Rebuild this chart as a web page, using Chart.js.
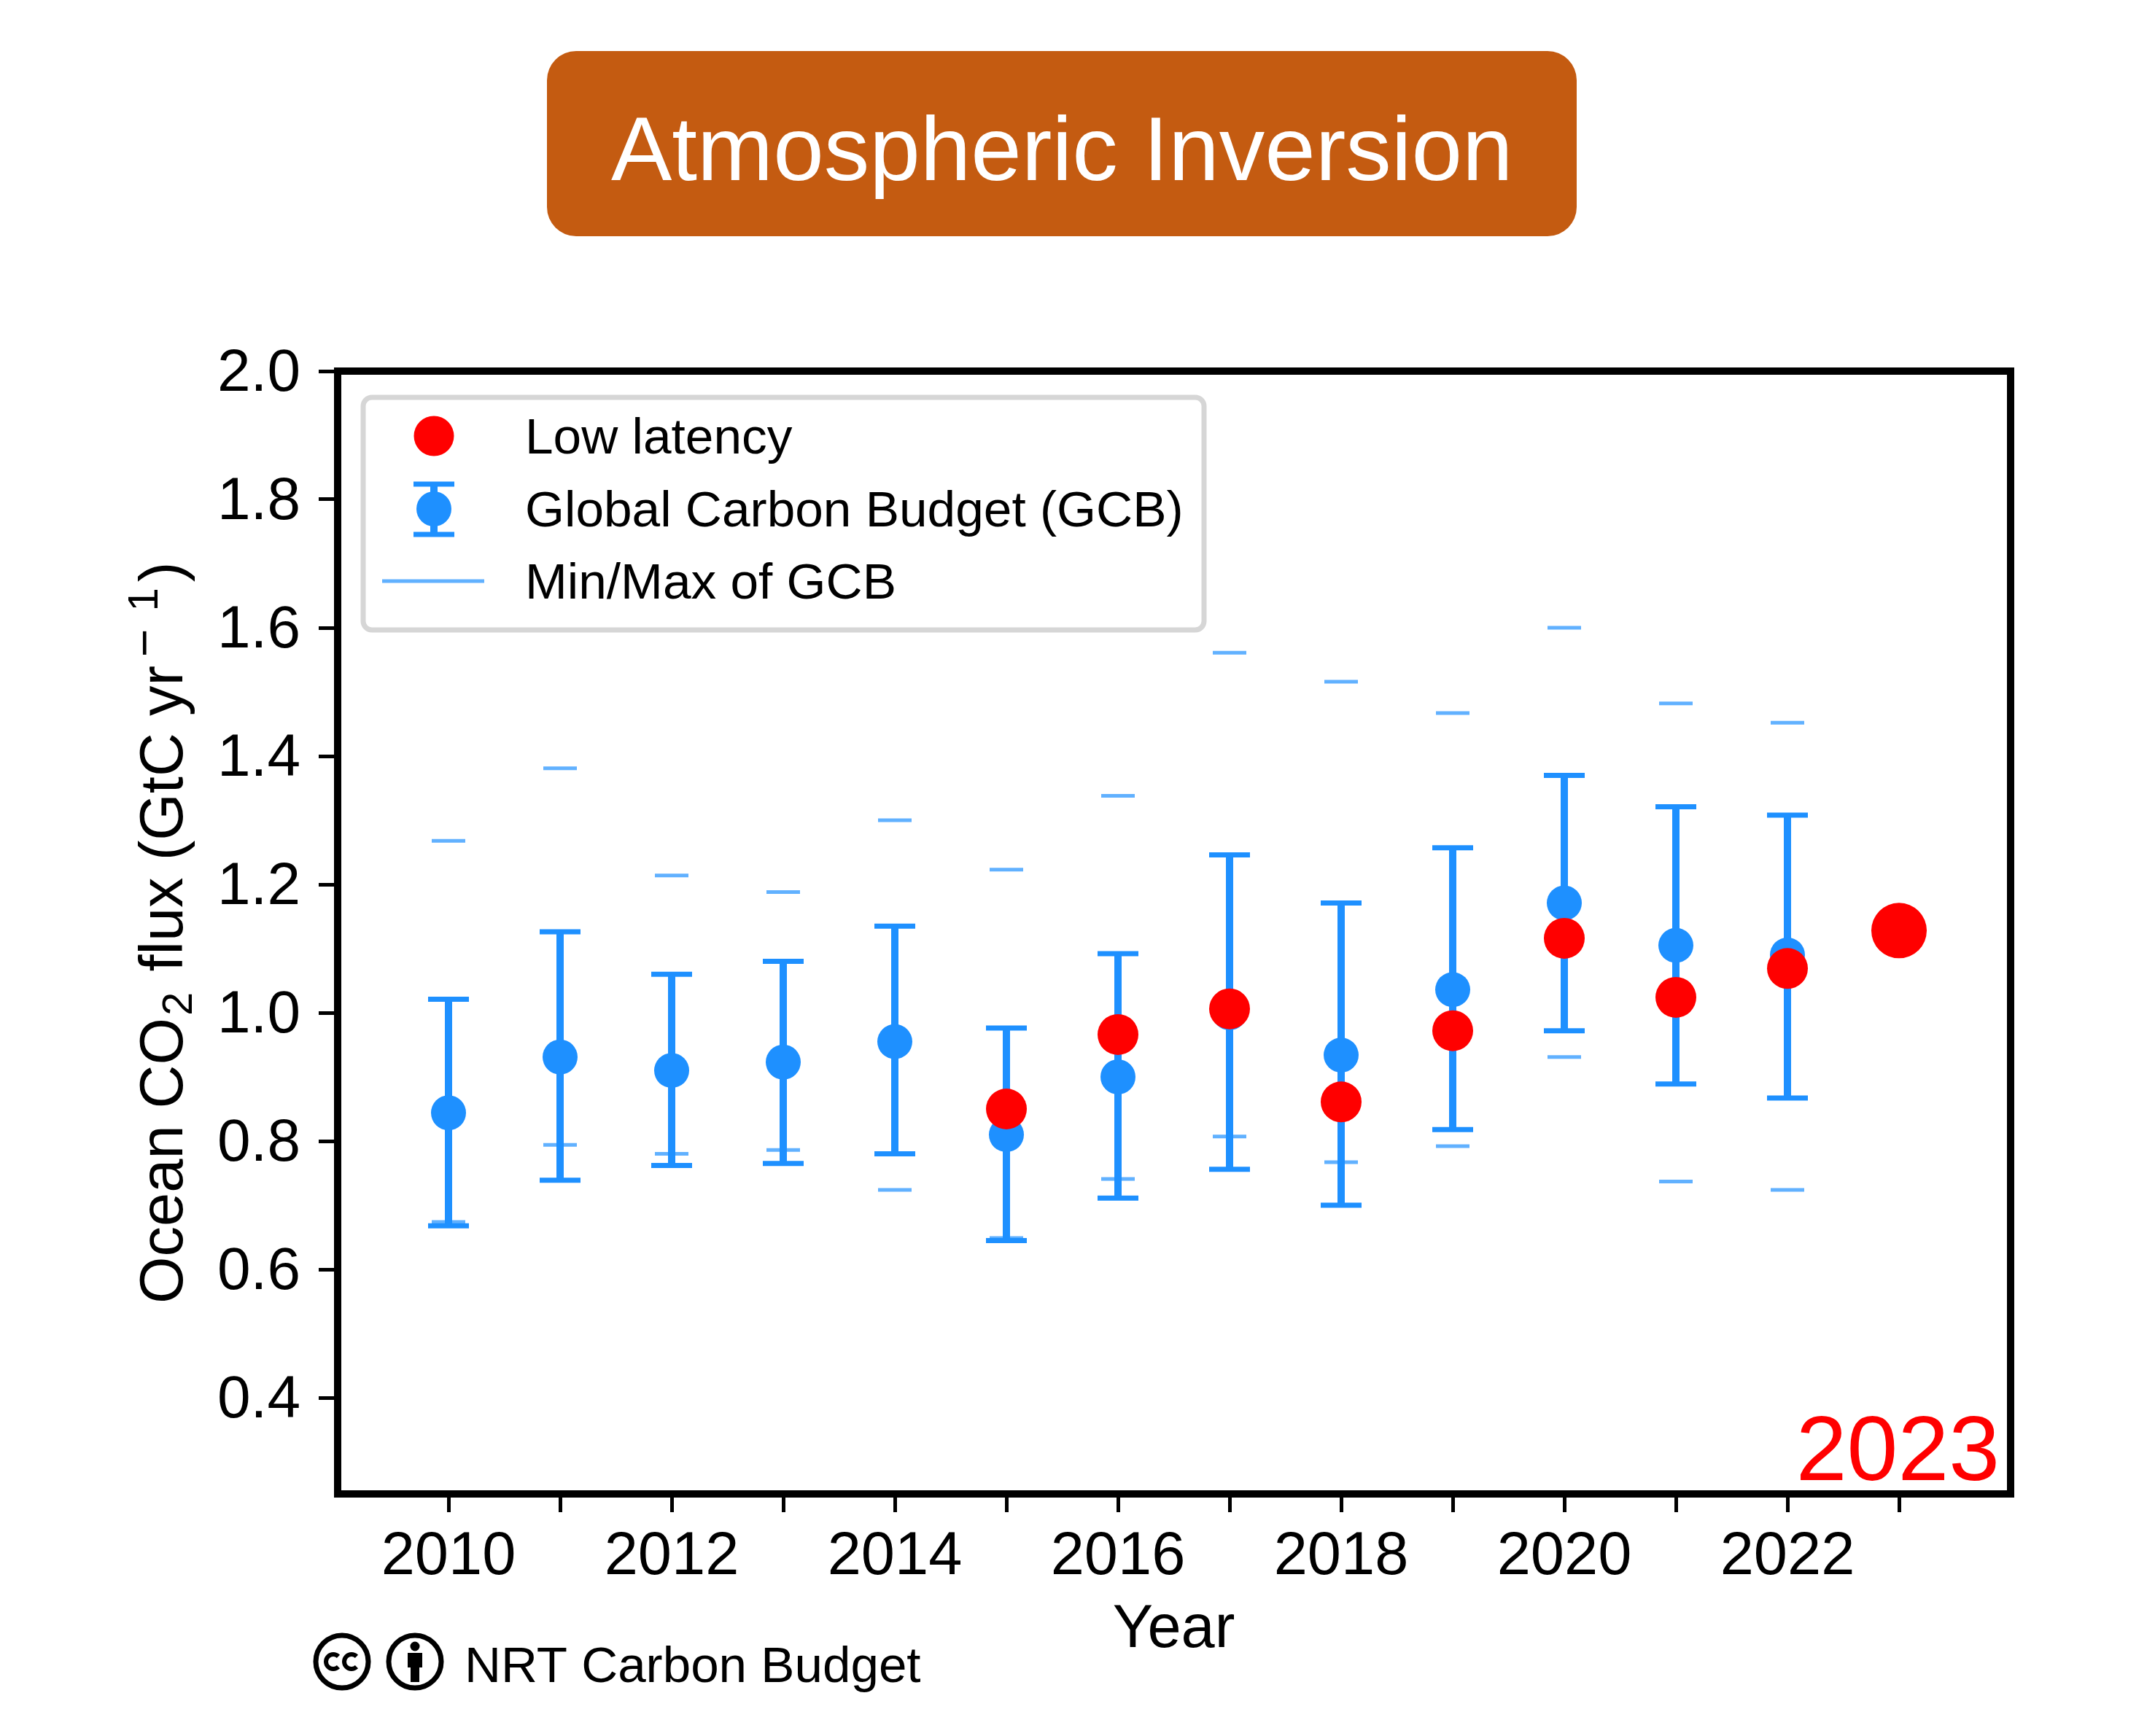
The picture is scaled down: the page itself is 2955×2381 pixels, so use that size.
<!DOCTYPE html>
<html><head><meta charset="utf-8">
<style>html,body{margin:0;padding:0;background:#fff}canvas{display:block}</style>
<script src="https://cdn.jsdelivr.net/npm/chart.js@4"></script>
</head><body><canvas id="c" width="2955" height="2381"></canvas>
<script>
const years = [2010,2011,2012,2013,2014,2015,2016,2017,2018,2019,2020,2021,2022];
const gcbMean = [0.844,0.931,0.910,0.923,0.955,0.810,0.900,1.000,0.934,1.036,1.171,1.105,1.090];
const gcbHigh = [1.021,1.126,1.060,1.080,1.135,0.976,1.092,1.246,1.171,1.257,1.370,1.321,1.308];
const gcbLow  = [0.668,0.739,0.762,0.765,0.780,0.645,0.711,0.756,0.700,0.818,0.972,0.889,0.867];
const gcbMax  = [1.268,1.381,1.214,1.188,1.300,1.223,1.338,1.561,1.516,1.467,1.600,1.482,1.452];
const gcbMin  = [0.674,0.794,0.780,0.786,0.724,0.649,0.741,0.807,0.767,0.792,0.931,0.737,0.724];
const lowYears = [2015,2016,2017,2018,2019,2020,2021,2022,2023];
const lowValues = [0.850,0.966,1.006,0.861,0.972,1.116,1.024,1.069,1.128];
const xTicks = [2010,2011,2012,2013,2014,2015,2016,2017,2018,2019,2020,2021,2022,2023];
const yTicks = [0.4,0.6,0.8,1.0,1.2,1.4,1.6,1.8,2.0];
const legendLabels = ['Low latency','Global Carbon Budget (GCB)','Min/Max of GCB'];
const titleText = 'Atmospheric Inversion';
const xTitle = 'Year';
const stampText = '2023';
const creditText = 'NRT Carbon Budget';

const BLUE='#1e90ff', PALE='rgba(30,144,255,0.7)', RED='#ff0000', FONT='"Liberation Sans"';
const zip=(xs,ys)=>xs.map((x,i)=>({x,y:ys[i]}));
const AREA={l:462,r:2757,t:509,b:2049};

const furniture={id:'furniture',
 beforeDraw(chart){
  chart.scales.y.getLabelItems(chart.chartArea).forEach(i=>{i.textOffset+=4;});
 },
 afterDraw(chart){
  const c=chart.ctx; c.save();
  c.strokeStyle='#000';c.lineWidth=10;c.lineJoin='miter';
  c.strokeRect(AREA.l+1,AREA.t,AREA.r-AREA.l-1,AREA.b-AREA.t);
  c.fillStyle='#c45b11';c.beginPath();c.roundRect(750,70,1412,254,40);c.fill();
  c.fillStyle='#fff';c.font='125px '+FONT;c.textAlign='left';c.textBaseline='alphabetic';
  c.fillText(titleText,838,247);
  c.fillStyle=RED;c.font='125.5px '+FONT;c.textAlign='right';c.fillText(stampText,2742,2030);
  c.save();c.translate(250,1788);c.rotate(-Math.PI/2);c.fillStyle='#000';c.textAlign='left';
  c.fontKerning='none';
  let x=0;const seg=(t,size,dy,gap=0)=>{x+=gap;c.font=size+'px '+FONT;c.fillText(t,x,dy);x+=c.measureText(t).width;};
  seg('Ocean CO',83,0);seg('2',58,13,3);x+=5;seg(' flux (GtC yr',83,0);seg('\u2212',66,-30,12);seg('1',58,-34,24);seg(')',83,0,8);
  c.restore();
  c.fillStyle='#fff';c.strokeStyle='#d6d6d6';c.lineWidth=7;c.beginPath();c.roundRect(498,545,1153,319,12);c.fill();c.stroke();
  c.fillStyle=RED;c.beginPath();c.arc(595,598,27.5,0,7);c.fill();
  c.fillStyle=BLUE;c.strokeStyle=BLUE;c.lineWidth=10;c.beginPath();c.moveTo(595,664);c.lineTo(595,733);c.stroke();
  c.lineWidth=7;c.beginPath();c.moveTo(567,664);c.lineTo(623,664);c.moveTo(567,733);c.lineTo(623,733);c.stroke();
  c.beginPath();c.arc(595,698,24,0,7);c.fill();
  c.strokeStyle=PALE;c.lineWidth=5;c.beginPath();c.moveTo(524,797);c.lineTo(664,797);c.stroke();
  c.fillStyle='#000';c.font='69.4px '+FONT;c.textAlign='left';
  legendLabels.forEach((t,i)=>c.fillText(t,720,[622,722,821][i]));
  c.font='69.2px '+FONT;c.fillText(creditText,637,2307);
  c.strokeStyle='#000';c.lineWidth=7;
  c.beginPath();c.arc(469,2279,36,0,7);c.stroke();
  c.beginPath();c.arc(569,2279,36,0,7);c.stroke();
  c.lineWidth=6;
  [457,482].forEach(cx=>{c.beginPath();c.arc(cx,2279,10,0.8,Math.PI*2-0.8,false);c.stroke();});
  c.fillStyle='#000';c.beginPath();c.arc(569,2258,6.5,0,7);c.fill();
  c.fillRect(559,2267,20,20);c.fillRect(563,2287,12,20);
  c.restore();
 }};

new Chart(document.getElementById('c'),{
 type:'scatter',
 plugins:[furniture],
 data:{datasets:[
  {label:legendLabels[0],data:zip(lowYears,lowValues),order:0,backgroundColor:RED,borderWidth:0,
   pointRadius:lowYears.map(y=>y===2023?38:28)},
  {label:legendLabels[1],data:zip(years,gcbMean),order:1,backgroundColor:BLUE,borderWidth:0,pointRadius:24},
  {label:'GCB range',type:'line',showLine:true,spanGaps:false,order:2,borderColor:BLUE,borderWidth:10,pointRadius:0,
   data:years.flatMap((y,i)=>[{x:y,y:gcbLow[i]},{x:y,y:gcbHigh[i]},{x:y,y:null}])},
  {label:'GCB upper',data:zip(years,gcbHigh),order:3,pointStyle:'line',pointRadius:28,borderColor:BLUE,pointBorderWidth:7},
  {label:'GCB lower',data:zip(years,gcbLow),order:3,pointStyle:'line',pointRadius:28,borderColor:BLUE,pointBorderWidth:7},
  {label:legendLabels[2],data:zip(years,gcbMax),order:4,pointStyle:'line',pointRadius:23,borderColor:PALE,pointBorderWidth:5},
  {label:'Min of GCB',data:zip(years,gcbMin),order:4,pointStyle:'line',pointRadius:23,borderColor:PALE,pointBorderWidth:5}
 ]},
 options:{
  responsive:false,animation:false,devicePixelRatio:1,
  layout:{padding:{left:0,top:AREA.t,right:2955-AREA.r,bottom:2381-2286}},
  plugins:{legend:{display:false},tooltip:{enabled:false},title:{display:false}},
  scales:{
   x:{type:'linear',min:2009,max:2024,
    afterBuildTicks(s){s.ticks=xTicks.map(v=>({value:v}));},
    afterFit(s){s.height=2286-AREA.b;},
    border:{display:false},
    grid:{drawOnChartArea:false,drawTicks:true,tickLength:25,tickWidth:5,tickColor:'#000'},
    ticks:{autoSkip:false,maxRotation:0,padding:12,color:'#000',font:{family:FONT,size:83},
     callback:v=>v%2===0?String(v):''},
    title:{display:true,text:xTitle,color:'#000',font:{family:FONT,size:83},padding:{top:0,bottom:0}}},
   y:{type:'linear',min:0.25,max:2,
    afterBuildTicks(s){s.ticks=yTicks.map(v=>({value:v}));},
    afterFit(s){s.width=AREA.l;},
    border:{display:false},
    grid:{drawOnChartArea:false,drawTicks:true,tickLength:25,tickWidth:5,tickColor:'#000'},
    ticks:{padding:25,color:'#000',font:{family:FONT,size:82},callback:v=>v.toFixed(1)}}
  }
 }
});
</script></body></html>
